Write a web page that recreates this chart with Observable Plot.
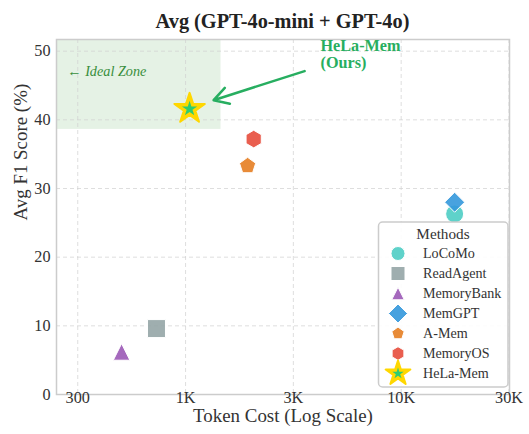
<!DOCTYPE html>
<html><head><meta charset="utf-8">
<script src="https://cdn.jsdelivr.net/npm/d3@7"></script>
<script src="https://cdn.jsdelivr.net/npm/@observablehq/plot@0.6"></script>
<style>
body{margin:0;background:#fff;}
#wrap{position:relative;width:529px;height:434px;overflow:hidden;font-family:"Liberation Serif","Times New Roman",serif;}
#title{position:absolute;left:56px;width:453px;top:0;height:42px;line-height:42px;text-align:center;font-weight:bold;color:#222;white-space:nowrap;}
#chart{position:absolute;left:0;top:30px;}
#legend{position:absolute;left:0;top:0;pointer-events:none;}
</style></head><body>
<div id="wrap"><div id="title">Avg (GPT-4o-mini + GPT-4o)</div><div id="chart"></div><svg id="legend" width="529" height="434"></svg></div>
<script>
// ---- data ----
const methods = ["LoCoMo","ReadAgent","MemoryBank","MemGPT","A-Mem","MemoryOS","HeLa-Mem"];
const tokenCost = [17700, 733, 505, 17700, 1940, 2070, 1044];
const f1Score = [26.3, 9.6, 6.2, 28.0, 33.3, 37.2, 41.6];
const xTicks = [316.23, 1000, 3162.3, 10000, 31623];
const xTickLabels = ["300","1K","3K","10K","30K"];
const yTicks = [0, 10, 20, 30, 40, 50];
const xDomain = [252, 31800];
const yDomain = [0, 51.7];
const idealZoneX = [252, 1460];
const idealZoneY = [38.6, 51.7];
const idealLabelPos = [283, 47.0];
const oursLine1Pos = [4226, 50.75];
const oursLine2Pos = [4226, 48.35];
const arrowFrom = [3565, 47.1];
const arrowTo = [1349, 42.86];

// ---- styles ----
const colors = ["#4ecdc4","#95a5a6","#9b59b6","#3498db","#e67e22","#e74c3c","#2ecc71"];
const shapes = ["circle","square","triangle","diamond","pentagon","hexagon","star"];
const plotSizes = [9, 9, 8.3, 10, 8.5, 8.8, 8];
const legendSizes = [7, 7, 6.3, 9.5, 6.5, 6.8, 6];
const FONT = '"Liberation Serif","Times New Roman",serif';

// font sizes fitted to the reference text widths
const mctx = document.createElement("canvas").getContext("2d");
function fit(text, target, style){ mctx.font = `${style||""} 100px ${FONT}`; return 100*target/mctx.measureText(text).width; }
const titleSize = fit("Avg (GPT-4o-mini + GPT-4o)", 254, "bold");
const axisTitleSize = fit("Token Cost (Log Scale)", 180);
const tickSize = fit("300", 24.3);
const legendSize = fit("MemoryBank", 78.4);
const legendTitleSize = fit("Methods", 53.3);
const oursSize = fit("HeLa-Mem", 80, "bold");
const idealSize = fit("← Ideal Zone", 79, "italic");
document.getElementById("title").style.fontSize = titleSize + "px";

function poly(n){ return {draw(ctx,size){const R=Math.sqrt(size/Math.PI); for(let i=0;i<n;i++){const a=2*Math.PI*i/n; const x=R*Math.sin(a), y=-R*Math.cos(a); i?ctx.lineTo(x,y):ctx.moveTo(x,y);} ctx.closePath();}}; }
const sym = {
  circle:{draw(ctx,size){const R=Math.sqrt(size/Math.PI); ctx.moveTo(R,0); ctx.arc(0,0,R,0,2*Math.PI);}},
  square:{draw(ctx,size){const R=Math.sqrt(size/Math.PI); ctx.rect(-R,-R,2*R,2*R);}},
  triangle:{draw(ctx,size){const R=Math.sqrt(size/Math.PI); ctx.moveTo(0,-R); ctx.lineTo(R,R); ctx.lineTo(-R,R); ctx.closePath();}},
  diamond: poly(4),
  pentagon: poly(5),
  hexagon: poly(6),
  star:{draw(ctx,size){const R=Math.sqrt(size/Math.PI), r=R*0.382; for(let i=0;i<10;i++){const a=Math.PI*i/5; const rr=i%2?r:R; const x=rr*Math.sin(a), y=-rr*Math.cos(a); i?ctx.lineTo(x,y):ctx.moveTo(x,y);} ctx.closePath();}}
};

const data = methods.map((m,i)=>({method:m, cost:tokenCost[i], f1:f1Score[i]}));

const pointMarks = [];
data.forEach((d,i)=>{
  if (shapes[i]==="star") {
    pointMarks.push(Plot.dot([d], {x:"cost", y:"f1", r:16, symbol:sym.star, fill:"#FFD700", stroke:"#FFD700", strokeWidth:2, strokeLinejoin:"round"}));
    pointMarks.push(Plot.dot([d], {x:"cost", y:"f1", r:plotSizes[i], symbol:sym.star, fill:colors[i], stroke:"none"}));
  } else {
    pointMarks.push(Plot.dot([d], {x:"cost", y:"f1", r:plotSizes[i], symbol:sym[shapes[i]], fill:colors[i], fillOpacity:0.9, stroke:"white", strokeWidth:1}));
  }
});

const plot = Plot.plot({
  width:529, height:404, marginLeft:56, marginRight:20, marginTop:9, marginBottom:40,
  style:{fontFamily:FONT, fontSize:"16px", color:"#333", background:"transparent"},
  x:{type:"log", domain:xDomain, axis:null},
  y:{domain:yDomain, axis:null},
  marks:[
    Plot.rect([{x1:idealZoneX[0], x2:idealZoneX[1], y1:idealZoneY[0], y2:idealZoneY[1]}], {x1:"x1", x2:"x2", y1:"y1", y2:"y2", fill:"green", fillOpacity:0.1}),
    Plot.gridX(xTicks, {stroke:"#d0d0d0", strokeOpacity:0.7, strokeDasharray:"4,3", strokeWidth:1}),
    Plot.gridY(yTicks, {stroke:"#d0d0d0", strokeOpacity:0.7, strokeDasharray:"4,3", strokeWidth:1}),
    Plot.frame({stroke:"#cccccc", strokeWidth:1.5}),
    Plot.text(xTicks, {x:d=>d, frameAnchor:"bottom", dy:8, text:(d,i)=>xTickLabels[i], fontSize:tickSize, fill:"#333"}),
    Plot.text(yTicks, {y:d=>d, frameAnchor:"left", dx:-6, textAnchor:"end", text:d=>String(d), fontSize:tickSize, fill:"#333"}),
    Plot.text(["Token Cost (Log Scale)"], {frameAnchor:"bottom", dy:27.8, fontSize:axisTitleSize, fill:"#333"}),
    Plot.text(["Avg F1 Score (%)"], {frameAnchor:"left", rotate:-90, dx:-35.5, dy:3.5, fontSize:axisTitleSize, fill:"#333"}),
    Plot.text(["← Ideal Zone"], {x:()=>idealLabelPos[0], y:()=>idealLabelPos[1], textAnchor:"start", fontSize:idealSize, fontStyle:"italic", fill:"#388e3c"}),
    ...pointMarks,
    Plot.arrow([0], {x1:()=>arrowFrom[0], y1:()=>arrowFrom[1], x2:()=>arrowTo[0], y2:()=>arrowTo[1], stroke:"#27ae60", strokeWidth:2.5, headLength:10, bend:0}),
    Plot.text(["HeLa-Mem"], {x:()=>oursLine1Pos[0], y:()=>oursLine1Pos[1], textAnchor:"start", fontSize:oursSize, fontWeight:"bold", fill:"#27ae60"}),
    Plot.text(["(Ours)"], {x:()=>oursLine2Pos[0], y:()=>oursLine2Pos[1], textAnchor:"start", fontSize:oursSize, fontWeight:"bold", fill:"#27ae60"})
  ]
});
document.getElementById("chart").appendChild(plot);

// ---- legend ----
const lg = d3.select("#legend");
lg.append("rect").attr("x",378.5).attr("y",222).attr("width",129.5).attr("height",165).attr("rx",4)
  .attr("fill","white").attr("fill-opacity",0.9).attr("stroke","#cccccc").attr("stroke-width",1.5);
lg.append("text").attr("x",443).attr("y",233.5).attr("dy","0.35em").attr("text-anchor","middle")
  .attr("font-family",FONT).attr("font-size",legendTitleSize).attr("fill","#333").text("Methods");
methods.forEach((m,i)=>{
  const cy = 253.5 + i*20;
  const g = lg.append("g").attr("transform",`translate(398,${cy})`);
  if (shapes[i]==="star") {
    g.append("path").attr("d", d3.symbol(sym.star, 13*13*Math.PI)()).attr("fill","#FFD700").attr("stroke","#FFD700").attr("stroke-width",2).attr("stroke-linejoin","round");
    g.append("path").attr("d", d3.symbol(sym.star, legendSizes[i]*legendSizes[i]*Math.PI)()).attr("fill",colors[i]);
  } else {
    g.append("path").attr("d", d3.symbol(sym[shapes[i]], legendSizes[i]*legendSizes[i]*Math.PI)()).attr("fill",colors[i]).attr("fill-opacity",0.9).attr("stroke","white").attr("stroke-width",1);
  }
  lg.append("text").attr("x",423).attr("y",cy).attr("dy","0.35em").attr("font-family",FONT).attr("font-size",legendSize).attr("fill","#333").text(m);
});
</script>
</body></html>
